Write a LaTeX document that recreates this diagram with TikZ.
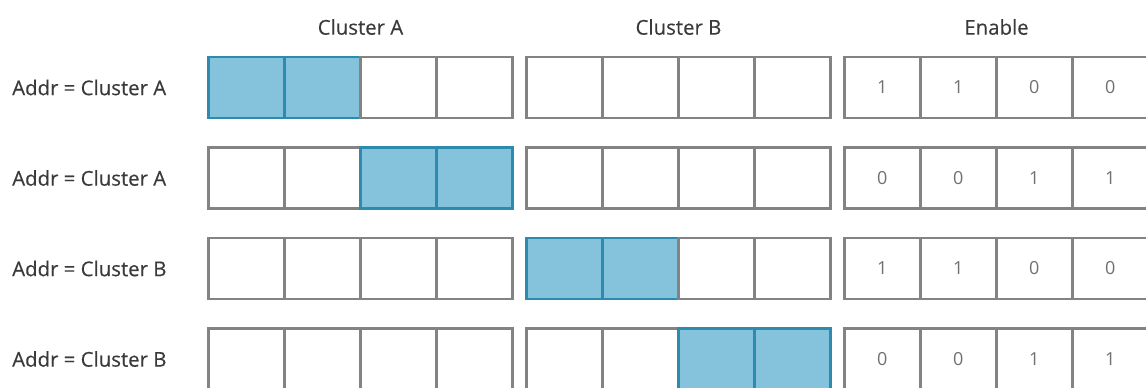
\documentclass[tikz,border=0pt]{standalone}
\usepackage{fontspec}
\setmainfont{Open Sans}
\newfontfamily\labfont{Open Sans}[FakeBold=0.3]
\definecolor{txt}{HTML}{3A3A3A}
\definecolor{numtxt}{HTML}{707070}
\definecolor{cellgray}{HTML}{838383}
\definecolor{bluefill}{HTML}{85C3DC}
\definecolor{blueline}{HTML}{2E8BB0}
\tikzset{
  cellbox/.style={draw=cellgray, line width=2.6pt, fill=white, minimum width=76pt, minimum height=61pt, inner sep=0pt, outer sep=0pt, anchor=west},
  hotbox/.style={cellbox, draw=blueline, fill=bluefill},
  rowlabel/.style={anchor=west, text=txt, font=\labfont\fontsize{20.4}{24}\selectfont, inner sep=0pt},
  header/.style={text=txt, font=\labfont\fontsize{20.4}{24}\selectfont, inner sep=0pt},
  numtext/.style={text=numtxt, font=\fontsize{18}{21}\selectfont},
}
\begin{document}
\begin{tikzpicture}[x=1pt,y=-1pt]
\useasboundingbox (0,0) rectangle (1146,388);
% headers
\node[header] (hA) at (360.5,27) {Cluster A};
\node[header] (hB) at (678.5,27) {Cluster B};
\node[header] (hE) at (996.5,27) {Enable};
% rows
\foreach \r/\y/\lab/\hot/\en in {
  1/87.5/A/{1,2}/{1,1,0,0},
  2/178/A/{3,4}/{0,0,1,1},
  3/268.5/B/{5,6}/{1,1,0,0},
  4/359/B/{7,8}/{0,0,1,1}}{
  \node[rowlabel] (lab\r) at (12,\y) {Addr = Cluster \lab};
  % Cluster A and B cells
  \foreach \g/\gx in {0/208.3,1/526.7}{
    \foreach \i in {1,...,4}{
      \pgfmathtruncatemacro{\k}{\g*4+\i}
      \foreach \h in \hot {\ifnum\h=\k\relax\global\let\hotflag\relax\fi}
      \pgfmathsetmacro{\cx}{\gx+76*(\i-1)}
      \ifdefined\hotflag
        \node[hotbox] (c\r-\k) at (\cx,\y) {};
        \global\let\hotflag\undefined
      \else
        \node[cellbox] (c\r-\k) at (\cx,\y) {};
      \fi
    }
  }
  % enable cells
  \foreach \v [count=\i] in \en {
    \pgfmathsetmacro{\cx}{844.3+76*(\i-1)}
    \node[cellbox] (e\r-\i) at (\cx,\y) {};
    \node[numtext] (n\r-\i) at (e\r-\i.center) {\v};
  }
}
\end{tikzpicture}
\end{document}
